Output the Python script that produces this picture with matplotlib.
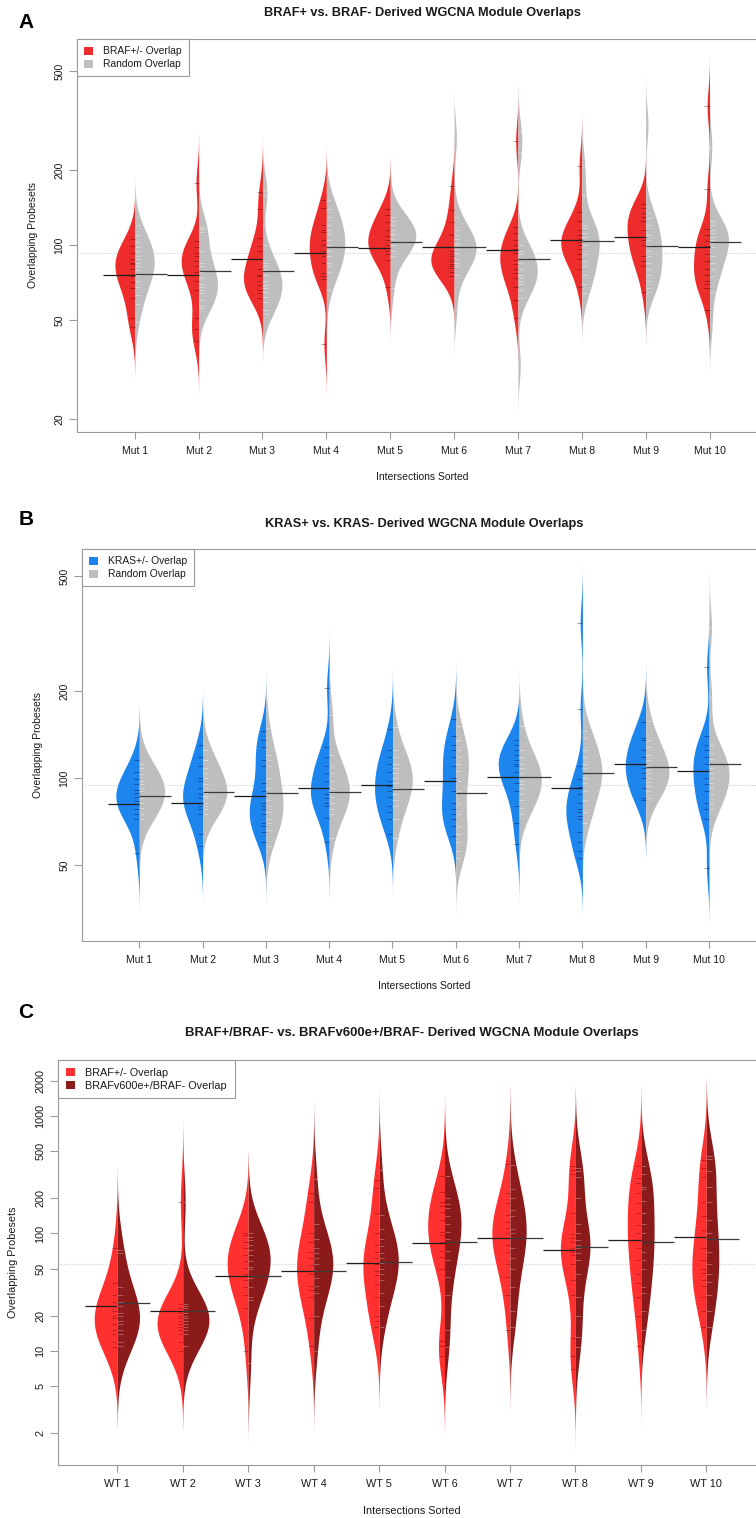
import numpy as np
import matplotlib
matplotlib.use("Agg")
import matplotlib.pyplot as plt
from matplotlib.patches import Patch

plt.rcParams['font.family'] = ['Liberation Sans', 'DejaVu Sans']

# ---------------- data ----------------
mut_labels = [f"Mut {i}" for i in range(1, 11)]
wt_labels = [f"WT {i}" for i in range(1, 11)]

# Panel A: BRAF+/- overlap (left half) vs random overlap (right half)
A_braf = [
    [106, 99, 93, 88, 85, 84, 80, 75, 71, 67, 61, 51, 47],
    [177, 104, 98, 93, 90, 86, 82, 78, 72, 66, 51, 46, 41],
    [163, 139, 107, 99, 95, 88, 80, 76, 75, 72, 69, 66, 64, 61],
    [152, 141, 120, 115, 113, 105, 100, 95, 90, 85, 77, 75, 73, 40],
    [140, 132, 124, 115, 109, 105, 100, 97, 95, 92, 87, 68],
    [172, 138, 124, 110, 98, 95, 92, 90, 88, 86, 84, 82, 81, 78, 75],
    [262, 118, 112, 105, 100, 96, 93, 87, 84, 80, 77, 74, 68, 60, 51],
    [208, 136, 125, 115, 110, 106, 103, 100, 96, 92, 88, 80, 68],
    [146, 141, 135, 130, 125, 115, 108, 105, 100, 90, 86, 82, 65],
    [361, 168, 116, 110, 104, 99, 92, 86, 80, 76, 72, 70, 67, 55],
]
A_rand = [
    [120, 110, 103, 98, 95, 90, 88, 85, 82, 79, 76, 72, 68, 63, 58, 49],
    [118, 116, 113, 95, 85, 82, 78, 74, 70, 68, 66, 64, 60, 57, 56],
    [166, 159, 100, 85, 82, 79, 76, 72, 69, 67, 65, 62, 59, 55, 53],
    [152, 140, 129, 120, 115, 111, 105, 100, 95, 90, 85, 82, 78, 66],
    [130, 125, 120, 115, 112, 110, 106, 103, 100, 95, 90, 67],
    [269, 130, 115, 110, 106, 102, 100, 98, 96, 93, 88, 85, 82, 76, 55],
    [284, 237, 100, 95, 92, 88, 85, 80, 76, 74, 72, 70, 66, 61, 33],
    [208, 159, 120, 117, 112, 108, 104, 100, 92, 86, 82, 76, 70, 64],
    [303, 135, 128, 120, 110, 105, 100, 95, 90, 85, 80, 76, 72, 67, 65],
    [248, 125, 120, 115, 112, 108, 105, 102, 98, 90, 85, 80, 75, 65, 48],
]
A_braf_mean = [75.8, 75.8, 88, 93, 97, 98.5, 95.5, 104.7, 108, 98.5]
A_rand_mean = [76.4, 78.8, 78.8, 98.5, 103, 98, 88, 104, 99, 103]
A_overall = 92.9

# Panel B: KRAS+/- overlap vs random overlap
B_kras = [
    [115, 105, 99, 95, 91, 89, 86, 83, 81, 78, 75, 72, 55],
    [130, 118, 110, 100, 98, 92, 88, 85, 82, 80, 78, 75, 64, 58],
    [145, 135, 128, 115, 110, 96, 90, 82, 80, 78, 75, 70, 68, 65, 60],
    [205, 128, 118, 110, 104, 98, 92, 88, 85, 82, 80, 73, 60],
    [148, 125, 118, 112, 105, 98, 94, 90, 86, 80, 76, 72, 64],
    [160, 140, 130, 125, 118, 110, 100, 98, 90, 82, 78, 75, 72, 68, 63],
    [135, 130, 125, 120, 115, 112, 110, 105, 101, 96, 90, 80, 70, 59],
    [344, 174, 110, 99, 93, 88, 82, 78, 76, 74, 72, 65, 60, 56, 53],
    [156, 138, 135, 125, 118, 112, 108, 104, 100, 92, 85, 84],
    [242, 140, 130, 125, 118, 112, 106, 100, 95, 90, 82, 78, 72, 49],
]
B_rand = [
    [112, 108, 103, 98, 95, 92, 90, 87, 85, 82, 79, 75, 72],
    [125, 115, 108, 104, 100, 95, 92, 89, 87, 85, 82, 80, 78, 75],
    [149, 120, 115, 110, 100, 92, 88, 84, 80, 76, 72, 70, 66, 58],
    [165, 120, 110, 104, 98, 92, 89, 86, 82, 78, 75, 62],
    [150, 125, 118, 112, 108, 104, 100, 96, 92, 88, 84, 80, 72, 62],
    [151, 135, 125, 118, 112, 106, 98, 90, 82, 75, 68, 64, 60, 56, 53],
    [151, 125, 118, 112, 108, 104, 101, 98, 95, 92, 88, 84, 79, 75],
    [146, 138, 125, 118, 112, 108, 104, 100, 96, 90, 84, 76, 70],
    [157, 135, 128, 120, 115, 110, 107, 104, 100, 97, 94, 90, 85],
    [333, 190, 130, 122, 116, 112, 108, 104, 100, 96, 92, 88, 82, 78],
]
B_kras_mean = [81.3, 82, 86.6, 92.3, 94.6, 97.9, 101, 92.6, 111.8, 105.7]
B_rand_mean = [86.6, 89.4, 88.7, 89.4, 91.4, 88.5, 101, 104, 109, 111.8]
B_overall = 94.6

# Panel C: BRAF+/- overlap vs BRAFv600e+/BRAF- overlap
C_braf = [
    [75, 38, 30, 26, 22, 20, 19, 17, 15, 14, 12, 10.9],
    [185, 25, 23, 21, 20, 19, 18, 17, 16, 15, 14, 12, 10],
    [100, 98, 85, 75, 65, 58, 51, 45, 40, 35, 30, 23, 10],
    [220, 185, 100, 85, 70, 62, 54, 45, 36, 33, 29, 19, 11],
    [284, 245, 150, 100, 80, 70, 62, 55, 48, 44, 37, 29, 20, 18, 16],
    [308, 226, 185, 170, 152, 130, 103, 98, 85, 71, 63, 50, 12.2, 11, 9],
    [390, 220, 180, 143, 125, 111, 100, 92, 80, 70, 55, 43, 30, 15],
    [375, 346, 320, 150, 99, 92, 85, 75, 70, 65, 55, 40, 30, 13, 9, 7],
    [375, 297, 270, 220, 180, 150, 118, 100, 88, 75, 60, 45, 38, 29, 20, 11],
    [420, 361, 300, 185, 140, 107, 93, 75, 60, 50, 46, 40, 36, 29, 22, 16],
]
C_v600 = [
    [72, 68, 35, 30, 26, 24, 21, 20, 18, 17, 15, 14, 12, 11],
    [185, 25, 24, 23, 21, 20, 19, 18, 17, 16, 15, 14, 11],
    [100, 93, 88, 80, 72, 65, 58, 52, 50, 42, 35, 29, 27, 7.9],
    [290, 120, 90, 75, 68, 62, 55, 48, 42, 36, 31, 20, 10],
    [346, 143, 110, 90, 78, 68, 62, 56, 50, 45, 40, 31, 24, 16],
    [308, 200, 178, 165, 140, 120, 103, 90, 71, 60, 43, 30, 15, 10.8],
    [380, 240, 200, 160, 140, 110, 100, 92, 75, 62, 50, 35, 22, 16],
    [360, 340, 300, 200, 120, 100, 88, 80, 75, 68, 60, 45, 29, 20, 13.2, 10.8],
    [375, 322, 250, 240, 190, 150, 120, 100, 85, 70, 60, 50, 35, 31, 22, 15],
    [455, 430, 340, 250, 185, 130, 100, 89, 70, 55, 45, 39, 30, 22, 16],
]
C_braf_mean = [24.3, 21.9, 43.5, 48, 56, 83, 91.6, 72, 88, 93]
C_v600_mean = [25.6, 21.9, 43.5, 48, 57, 85, 91.6, 77, 85, 89.6]
C_overall = 55.5

# ---------------- layout ----------------
W, H = 756, 1518
fig = plt.figure(figsize=(W / 100, H / 100), dpi=100)

def fx(x):
    return x / W

def fy(y):
    return 1 - y / H

SPINE = '#9a9a9a'
TXT = '#1a1a1a'


def kde(vals, bw, n=500):
    lv = np.log10(np.asarray(vals, float))
    g = np.linspace(lv.min() - 3 * bw, lv.max() + 3 * bw, n)
    d = np.exp(-0.5 * ((g[:, None] - lv[None, :]) / bw) ** 2).sum(1)
    d /= len(lv) * bw * np.sqrt(2 * np.pi)
    return g, d


def panel(box, ylim, yticks, labels, left, right, lmean, rmean, overall,
          cols, tickcols, bw, legend_labels, title, letter, letter_xy,
          title_y, ylab_x, xlab_y, fs=7.5, fs_leg=7.4, fs_title=9.2):
    x0, y0, x1, y1 = box
    ax = fig.add_axes([fx(x0), fy(y1), (x1 - x0) / W, (y1 - y0) / H])
    ax.set_yscale('log')
    ax.set_xlim(0.1, 10.9)
    ax.set_ylim(*ylim)

    dl = [kde(v, bw) for v in left]
    dr = [kde(v, bw) for v in right]
    mx = max(d.max() for _, d in dl + dr)
    s = 0.4 / mx
    ll = 0.08

    ax.axhline(overall, color='#cccccc', lw=0.8, ls=(0, (1, 1.5)), zorder=1)
    for i in range(len(left)):
        pos = i + 1
        g, d = dl[i]
        ax.fill_betweenx(10 ** g, pos - s * d, pos, color=cols[0], lw=0,
                         zorder=2)
        g, d = dr[i]
        ax.fill_betweenx(10 ** g, pos, pos + s * d, color=cols[1], lw=0,
                         zorder=2)
        ax.hlines(left[i], pos - ll, pos, color=tickcols[0], lw=0.6, zorder=3)
        ax.hlines(right[i], pos, pos + ll, color=tickcols[1], lw=0.6, zorder=3)
        ax.hlines(lmean[i], pos - 0.5, pos, color='#1e1e1e', lw=0.9, zorder=4)
        ax.hlines(rmean[i], pos, pos + 0.5, color='#3a3a3a', lw=0.9, zorder=4)

    for sp in ax.spines.values():
        sp.set_color(SPINE)
        sp.set_linewidth(0.8)
    ax.set_xticks(range(1, 11))
    ax.set_xticklabels(labels, fontsize=fs, color=TXT)
    ax.set_yticks(yticks)
    ax.set_yticklabels([str(t) for t in yticks], fontsize=fs, color=TXT)
    ax.yaxis.set_minor_locator(matplotlib.ticker.NullLocator())
    ax.tick_params(axis='x', length=5, width=0.8, color=SPINE, pad=5)
    ax.tick_params(axis='y', length=6, width=0.8, color=SPINE, pad=3.5)
    for lab in ax.get_yticklabels():
        lab.set_rotation(90)
        lab.set_va('center')
        lab.set_ha('right')

    handles = [Patch(facecolor=cols[0], edgecolor='none'),
               Patch(facecolor=cols[1], edgecolor='none')]
    leg = ax.legend(handles, legend_labels, loc='upper left',
                    bbox_to_anchor=(0, 1), borderaxespad=0, fontsize=fs_leg,
                    frameon=True, fancybox=False, edgecolor=SPINE,
                    framealpha=1, handlelength=0.8, handleheight=0.8,
                    handletextpad=1.0, borderpad=0.7, labelspacing=0.3)
    leg.get_frame().set_linewidth(0.8)
    for t in leg.get_texts():
        t.set_color(TXT)

    cx = (x0 + x1) / 2
    fig.text(fx(cx), fy(title_y), title, ha='center', va='center',
             fontsize=fs_title, fontweight='bold', color=TXT)
    fig.text(fx(letter_xy[0]), fy(letter_xy[1]), letter, ha='center',
             va='center', fontsize=15, fontweight='bold', color='black')
    fig.text(fx(ylab_x), fy((y0 + y1) / 2), 'Overlapping Probesets',
             rotation=90, ha='center', va='center', fontsize=fs, color=TXT)
    fig.text(fx(cx), fy(xlab_y), 'Intersections Sorted', ha='center',
             va='center', fontsize=fs, color=TXT)
    return ax


panel((77.3, 39, 767, 432), (17.74, 672), [20, 50, 100, 200, 500], mut_labels,
      A_braf, A_rand, A_braf_mean, A_rand_mean, A_overall,
      ('#EE2C2C', '#BEBEBE'), ((0.25, 0, 0, 0.45), (1, 1, 1, 0.45)), 0.07,
      ['BRAF+/- Overlap', 'Random Overlap'],
      'BRAF+ vs. BRAF- Derived WGCNA Module Overlaps', 'A', (26, 22),
      13, 33, 477)

panel((82.3, 549, 766, 941), (27.3, 620), [50, 100, 200, 500], mut_labels,
      B_kras, B_rand, B_kras_mean, B_rand_mean, B_overall,
      ('#1C86EE', '#BEBEBE'), ((0, 0, 0.2, 0.45), (1, 1, 1, 0.45)), 0.067,
      ['KRAS+/- Overlap', 'Random Overlap'],
      'KRAS+ vs. KRAS- Derived WGCNA Module Overlaps', 'B', (26, 520),
      524, 38, 986)

panel((58.4, 1060, 765.2, 1465), (1.07, 2997),
      [2, 5, 10, 20, 50, 100, 200, 500, 1000, 2000], wt_labels,
      C_braf, C_v600, C_braf_mean, C_v600_mean, C_overall,
      ('#FF3030', '#8B1A1A'), ((0.45, 0, 0, 0.45), (1, 0.85, 0.85, 0.4)), 0.23,
      ['BRAF+/- Overlap', 'BRAFv600e+/BRAF- Overlap'],
      'BRAF+/BRAF- vs. BRAFv600e+/BRAF- Derived WGCNA Module Overlaps', 'C',
      (26, 1012), 1033, 13, 1511, fs=7.8, fs_leg=7.8, fs_title=9.45)

fig.savefig('out.png', dpi=100)
